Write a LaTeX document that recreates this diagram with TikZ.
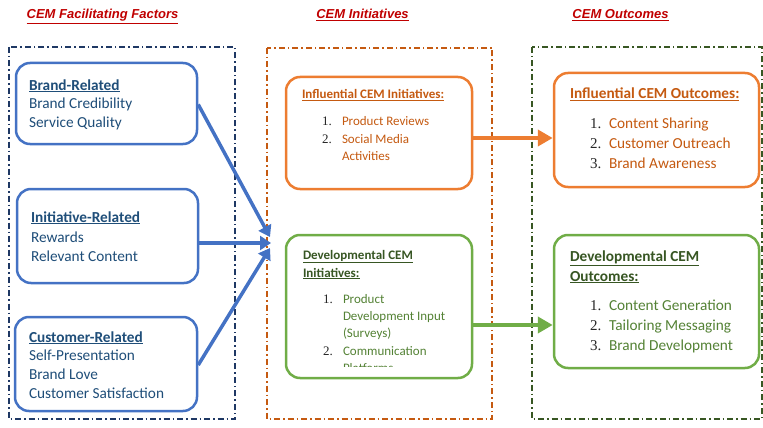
\documentclass[tikz,border=0pt]{standalone}
\usepackage{fontspec}
\setmainfont{Carlito}
\newfontfamily\titlefont{Liberation Sans}
\newfontfamily\numfont{Liberation Serif}
\usetikzlibrary{arrows.meta}
\definecolor{cred}{HTML}{C00000}
\definecolor{cblue}{HTML}{4472C4}
\definecolor{cblued}{HTML}{1F4E79}
\definecolor{cnavy}{HTML}{1F3864}
\definecolor{corange}{HTML}{ED7D31}
\definecolor{coranged}{HTML}{C55A11}
\definecolor{cbrown}{HTML}{C55A11}
\definecolor{cgreen}{HTML}{70AD47}
\definecolor{cgreend}{HTML}{548235}
\definecolor{cgreent}{HTML}{375623}
\definecolor{cdkgreen}{HTML}{385723}
\definecolor{cnum}{HTML}{262626}
\tikzset{
  container/.style={draw, line width=1.5pt, dash pattern=on 6pt off 3pt on 1.5pt off 3pt},
  rbox/.style={draw, line width=2.5pt, rounded corners=14pt, fill=white},
  txt/.style={anchor=base west, inner sep=0pt, outer sep=0pt},
  head/.style={txt, font=\titlefont\fontsize{13}{15}\selectfont\bfseries\itshape, text=cred, anchor=base},
  ltxt/.style={txt, font=\fontsize{15.3}{18}\selectfont, text=cblued},
  mtxt/.style={txt, font=\fontsize{13}{16}\selectfont},
  otxt/.style={txt, font=\fontsize{15.3}{18}\selectfont},
  num13/.style={txt, font=\numfont\fontsize{13}{16}\selectfont, text=cnum},
  num15/.style={txt, font=\numfont\fontsize{15}{18}\selectfont, text=cnum},
  barrow/.style={draw=cblue, line width=3.5pt, -{Triangle[length=11pt,width=14pt]}},
  oarrow/.style={draw=corange, line width=4pt, -{Triangle[length=15pt,width=16pt]}},
  garrow/.style={draw=cgreen, line width=4pt, -{Triangle[length=15pt,width=16pt]}},
}
\begin{document}
\begin{tikzpicture}[x=1pt,y=-1pt]
\useasboundingbox (0,0) rectangle (763,428);

% headings
\node[head] (h1) at (102.5,19) {\underline{CEM Facilitating Factors}};
\node[head] (h2) at (362.5,19) {\underline{CEM Initiatives}};
\node[head] (h3) at (620.5,19) {\underline{CEM Outcomes}};

% containers
\draw[container, cnavy] (9,47) rectangle (235,419);
\draw[container, cbrown] (267,48) rectangle (492,419);
\draw[container, cdkgreen] (532,47) rectangle (762,419);

% left boxes
\node[rbox, draw=cblue, minimum width=181pt, minimum height=81pt] (brand) at (106.5,103.5) {};
\node[rbox, draw=cblue, minimum width=181pt, minimum height=94pt] (init) at (107.5,236) {};
\node[rbox, draw=cblue, minimum width=182pt, minimum height=94pt] (cust) at (106,364) {};

\node[ltxt] (b0) at (29,90) {\textbf{\underline{Brand-Related}}};
\node[ltxt] (b1) at (29,108) {Brand Credibility};
\node[ltxt] (b2) at (29,127) {Service Quality};

\node[ltxt] (i0) at (31,222) {\textbf{\underline{Initiative-Related}}};
\node[ltxt] (i1) at (31,242) {Rewards};
\node[ltxt] (i2) at (31,261) {Relevant Content};

\node[ltxt] (c0) at (29,342) {\textbf{\underline{Customer-Related}}};
\node[ltxt] (c1) at (29,360) {Self-Presentation};
\node[ltxt] (c2) at (29,379) {Brand Love};
\node[ltxt] (c3) at (29,398) {Customer Satisfaction};

% middle boxes
\node[rbox, draw=corange, minimum width=186pt, minimum height=112pt] (infl) at (379,133) {};
\node[rbox, draw=cgreen, minimum width=186pt, minimum height=143pt] (dev) at (379,306.5) {};

\node[mtxt, text=coranged] (m0) at (302,99) {\textbf{\underline{Influential CEM Initiatives:}}};
\node[num13] (mn1) at (322,125) {1.};
\node[mtxt, text=coranged] (m1) at (342,125) {Product Reviews};
\node[num13] (mn2) at (322,143) {2.};
\node[mtxt, text=coranged] (m2) at (342,143) {Social Media};
\node[mtxt, text=coranged] (m3) at (342,160.5) {Activities};

\node[mtxt, text=cgreent] (d0) at (303,259) {\textbf{\underline{Developmental CEM}}};
\node[mtxt, text=cgreent] (d1) at (303,277) {\textbf{\underline{Initiatives:}}};
\begin{scope}
\clip (290,280) rectangle (468,366.5);
\node[num13] (dn1) at (323,303) {1.};
\node[mtxt, text=cgreend] (d2) at (343,303) {Product};
\node[mtxt, text=cgreend] (d3) at (343,320.5) {Development Input};
\node[mtxt, text=cgreend] (d4) at (343,337.5) {(Surveys)};
\node[num13] (dn2) at (323,355) {2.};
\node[mtxt, text=cgreend] (d5) at (343,355) {Communication};
\node[mtxt, text=cgreend] (d6) at (343,372.5) {Platforms};
\end{scope}

% right boxes
\node[rbox, draw=corange, minimum width=205pt, minimum height=114pt] (oinfl) at (656.5,130) {};
\node[rbox, draw=cgreen, minimum width=205pt, minimum height=133pt] (odev) at (656.5,301.5) {};

\node[otxt, text=coranged] (o0) at (570,99) {\textbf{\underline{Influential CEM Outcomes:}}};
\node[num15] (on1) at (590,128) {1.};
\node[otxt, text=coranged] (o1) at (609,128) {Content Sharing};
\node[num15] (on2) at (590,148) {2.};
\node[otxt, text=coranged] (o2) at (609,148) {Customer Outreach};
\node[num15] (on3) at (590,168) {3.};
\node[otxt, text=coranged] (o3) at (609,168) {Brand Awareness};

\node[otxt, text=cgreent] (p0) at (570,261) {\textbf{\underline{Developmental CEM}}};
\node[otxt, text=cgreent] (p1) at (570,281) {\textbf{\underline{Outcomes:}}};
\node[num15] (pn1) at (590,310) {1.};
\node[otxt, text=cgreend] (p2) at (609,310) {Content Generation};
\node[num15] (pn2) at (590,330) {2.};
\node[otxt, text=cgreend] (p3) at (609,330) {Tailoring Messaging};
\node[num15] (pn3) at (590,350) {3.};
\node[otxt, text=cgreend] (p4) at (609,350) {Brand Development};

% blue arrows
\coordinate (t1) at (270,237);
\coordinate (t2) at (271,243);
\coordinate (t3) at (270,248);
\draw[barrow] ([yshift=-1pt]brand.east) -- (t1);
\draw[barrow] ([yshift=-7pt]init.east) -- (t2);
\draw[barrow] ([yshift=-1pt]cust.east) -- (t3);

% orange and green arrows
\coordinate (oa) at ([yshift=-5pt]infl.east);
\draw[oarrow] (oa) -- (oa -| oinfl.west);
\coordinate (ga) at ([yshift=-18.5pt]dev.east);
\draw[garrow] (ga) -- (ga -| odev.west);
\end{tikzpicture}
\end{document}
